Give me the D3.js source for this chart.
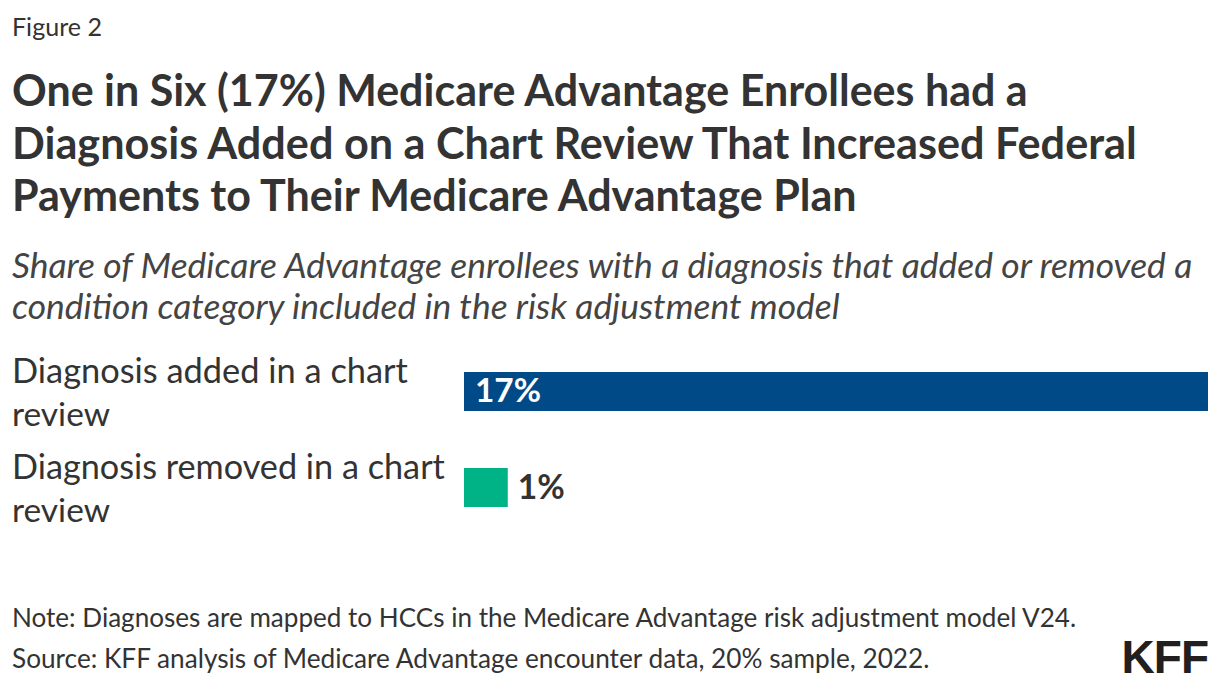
<!DOCTYPE html>
<html>
<head>
<meta charset="utf-8">
<script src="https://cdn.jsdelivr.net/npm/d3@7"></script>
<style>
  body { margin: 0; background: #fff; }
  svg { font-family: "Source Sans Pro", Lato, "Open Sans", sans-serif; }
</style>
</head>
<body>
<svg id="chart" width="1220" height="690"></svg>
<script>
// chart data
var categories = ["Diagnosis added in a chart review", "Diagnosis removed in a chart review"];
var categoryLines = [["Diagnosis added in a chart", "review"], ["Diagnosis removed in a chart", "review"]];
var values = [17, 1];
var barColors = ["#004a87", "#00b386"];

var titleLines = [
    "One in Six (17%) Medicare Advantage Enrollees had a",
    "Diagnosis Added on a Chart Review That Increased Federal",
    "Payments to Their Medicare Advantage Plan"
];
var subtitleLines = [
    "Share of Medicare Advantage enrollees with a diagnosis that added or removed a",
    "condition category included in the risk adjustment model"
];
var noteLines = [
    "Note: Diagnoses are mapped to HCCs in the Medicare Advantage risk adjustment model V24.",
    "Source: KFF analysis of Medicare Advantage encounter data, 20% sample, 2022."
];

var svg = d3.select("#chart");

// put a text at x,y and scale font size so it spans the width seen in the picture
function fitText(txt, x, y, size, width, opts) {
    var t = svg.append("text")
        .attr("x", x)
        .attr("y", y)
        .attr("font-size", size)
        .attr("fill", opts.fill || "#333")
        .attr("font-weight", opts.weight || "normal")
        .attr("font-style", opts.style || "normal")
        .text(txt);
    if (width) {
        var w = t.node().getComputedTextLength();
        t.attr("font-size", size * width / w);
    }
    return t;
}

fitText("Figure 2", 12, 36, 22, 90, { fill: "#333" });

var titleWidths = [1016, 1125, 845];
titleLines.forEach(function(line, i) {
    fitText(line, 12, 106 + i * 52.5, 38, titleWidths[i], { weight: "bold", fill: "#333" });
});

var subWidths = [1181, 828];
subtitleLines.forEach(function(line, i) {
    fitText(line, 12, 278 + i * 41, 29, subWidths[i], { style: "italic", fill: "#444" });
});

// bars
var x = d3.scaleLinear().domain([0, 17]).range([464, 1208]);
var y = d3.scaleBand().domain(categories).range([372, 507]).paddingInner(0.594).paddingOuter(0);

var labelWidths = [[396, 98], [433, 98]];
categories.forEach(function(c, i) {
    var top = y(c);
    categoryLines[i].forEach(function(line, j) {
        fitText(line, 12, top + 11 + j * 43, 31, labelWidths[i][j], { fill: "#333" });
    });
});

svg.selectAll("rect.bar")
    .data(values)
    .enter().append("rect")
    .attr("class", "bar")
    .attr("x", x(0))
    .attr("y", function(d, i) { return y(categories[i]); })
    .attr("width", function(d) { return x(d) - x(0); })
    .attr("height", y.bandwidth())
    .attr("fill", function(d, i) { return barColors[i]; });

values.forEach(function(v, i) {
    var inside = (x(v) - x(0)) > 80;
    fitText(v + "%", inside ? x(0) + 11 : x(v) + 10, y(categories[i]) + y.bandwidth() / 2 + 11, 28, 66 - (inside ? 0 : 19), {
        weight: "bold",
        fill: inside ? "#fff" : "#333"
    });
});

var noteWidths = [1065, 918];
noteLines.forEach(function(line, i) {
    fitText(line, 12, 627 + i * 41, 21, noteWidths[i], { fill: "#333" });
});

// logo
svg.append("text")
    .attr("x", 1208)
    .attr("y", 673)
    .attr("text-anchor", "end")
    .attr("font-family", "'Liberation Sans', Arial, sans-serif")
    .attr("font-weight", "bold")
    .attr("font-size", 46)
    .attr("letter-spacing", -1)
    .attr("fill", "#231f20")
    .text("KFF");
</script>
</body>
</html>
